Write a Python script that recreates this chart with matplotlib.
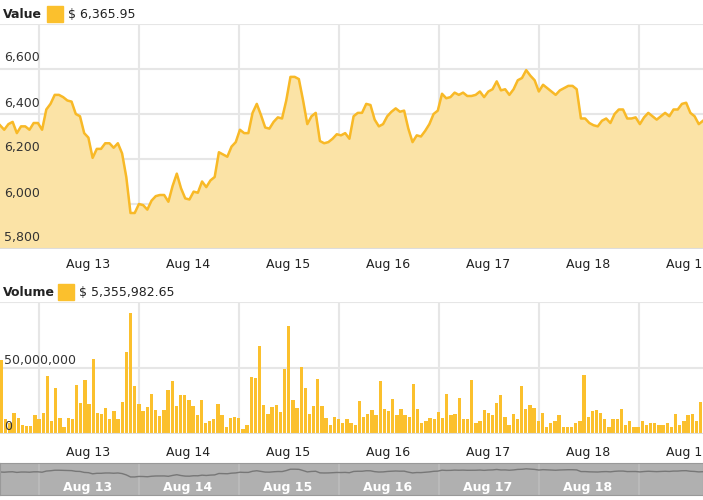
import matplotlib

matplotlib.use("Agg")
import matplotlib.pyplot as plt
import numpy as np

# hourly price readings (USD)
price = [
    6350, 6330, 6355, 6365, 6315, 6345, 6345, 6330, 6360, 6360, 6330, 6420,
    6445, 6485, 6485, 6475, 6460, 6455, 6400, 6390, 6315, 6295, 6205, 6245,
    6245, 6270, 6270, 6250, 6270, 6225, 6120, 5960, 5960, 6000, 5995, 5975,
    6015, 6035, 6040, 6040, 6010, 6080, 6135, 6070, 6025, 6020, 6055, 6050,
    6100, 6075, 6105, 6120, 6230, 6220, 6210, 6255, 6275, 6330, 6315, 6315,
    6405, 6445, 6395, 6340, 6335, 6365, 6385, 6380, 6460, 6565, 6565, 6555,
    6460, 6355, 6390, 6405, 6280, 6270, 6275, 6290, 6310, 6305, 6315, 6290,
    6390, 6405, 6405, 6445, 6440, 6375, 6345, 6355, 6390, 6410, 6425, 6410,
    6415, 6335, 6275, 6305, 6300, 6325, 6355, 6400, 6415, 6490, 6470, 6475,
    6495, 6485, 6495, 6480, 6480, 6485, 6500, 6475, 6500, 6510, 6545, 6505,
    6510, 6485, 6510, 6550, 6560, 6595, 6570, 6550, 6500, 6530, 6515, 6500,
    6485, 6505, 6515, 6525, 6525, 6510, 6380, 6380, 6360, 6350, 6345, 6370,
    6380, 6360, 6400, 6420, 6420, 6380, 6380, 6385, 6355, 6385, 6405, 6390,
    6375, 6390, 6405, 6390, 6420, 6420, 6445, 6450, 6405, 6390, 6355, 6370,
]

# hourly volume readings (millions USD)
volume_m = [
    56, 11, 8.5, 16, 12.5, 7, 6, 6, 14.5, 11, 16, 44, 10, 35, 12, 5.5, 12,
    11.5, 37, 23.5, 41, 23, 57, 16, 15.5, 20, 11, 17.5, 11, 24, 62, 92, 36.5,
    23, 17.5, 20.5, 30, 18, 14, 18, 33, 40, 21.5, 29.5, 29.5, 26, 21.5, 14.5,
    26, 8.5, 9.5, 11, 23, 14.5, 5.5, 12, 13, 12, 4, 7, 43, 42.5, 66.5, 22,
    15.5, 20.5, 22, 17, 49, 81.5, 26, 20, 51, 35, 15.5, 21.5, 41.5, 21.5, 12,
    7, 13, 11, 8.5,
    11, 8.5, 7, 25, 13, 15.5, 18.5, 14.5, 40, 19, 17.5, 26.5, 14.5, 19, 14.5,
    13, 38, 19, 8.5, 9.5, 12, 11, 17, 12, 30, 14.5, 15.5, 27.5, 11, 11, 41, 8,
    10, 18.5, 16, 14.5, 23.5, 29.5, 13, 7, 15.5, 11.5, 36.5, 19, 22, 20, 9.5,
    16, 5, 8, 9.5, 14.5, 5, 5, 5.5, 8.5, 10, 45, 13, 17.5, 18.5, 16, 11.5, 5,
    11.5, 11.5, 19, 7, 9.5, 5, 5, 10, 6.5, 8, 8, 7, 7, 8, 5, 15.5, 6.5, 9.5,
    14.5, 15.5, 9.5, 24.5, 5,
]

day_labels = ["Aug 13", "Aug 14", "Aug 15", "Aug 16", "Aug 17", "Aug 18", "Aug 19"]
price_ticks = [5800, 6000, 6200, 6400, 6600]

LINE = "#f8b927"
FILL = "#fbe3a6"
BAR = "#fbc02d"
GRID = "#e6e6e6"

hours_px = 100 / 24
x_max = 703 / hours_px
px = lambda p: p / hours_px
grid_x = [px(39 + 100 * k) for k in range(7)]
label_x = [px(88 + 100 * k) for k in range(7)]

xp = np.arange(len(price)) * (px(703) / (len(price) - 1))
xv = np.arange(len(volume_m)) * (px(703) / (len(volume_m) - 1))

fig = plt.figure(figsize=(7.03, 5.0), dpi=100)


def style(ax, ylim):
    ax.set_xlim(0, x_max)
    ax.set_ylim(*ylim)
    for spine in ax.spines.values():
        spine.set_visible(False)
    ax.set_xticks([])
    ax.set_yticks([])
    for gx in grid_x:
        ax.axvline(gx, color=GRID, lw=1.5, zorder=0)


# value panel
ax1 = fig.add_axes([0, 1 - 249 / 500, 1, 225 / 500])
style(ax1, (5800, 6800))
for t in price_ticks + [6800]:
    ax1.axhline(t, color=GRID, lw=1.5, zorder=0)
ax1.fill_between(xp, price, 5800, color=FILL, zorder=1)
ax1.plot(xp, price, color=LINE, lw=1.8, zorder=2)
ax1.axhline(5800, color="#dddddd", lw=1.5, zorder=3)
for t in price_ticks:
    ax1.text(px(4), t + 20, f"{t:,}", fontsize=9, color="#333333", va="bottom", ha="left")
for lx, lab in zip(label_x, day_labels):
    ax1.text(lx, 5730, lab, fontsize=9, ha="center", va="center", color="#222222", clip_on=False)

# volume panel
ax2 = fig.add_axes([0, 1 - 434 / 500, 1, 132 / 500])
style(ax2, (0, 100))
for t in [0, 50, 100]:
    ax2.axhline(t, color=GRID, lw=1.5, zorder=0)
ax2.bar(xv, volume_m, width=0.8 * (xv[1] - xv[0]), color=BAR, align="edge", zorder=2)
ax2.axhline(0, color="#dddddd", lw=1.5, zorder=3)
ax2.text(px(4), 51, "50,000,000", fontsize=9, color="#333333", va="bottom")
ax2.text(px(4), 1, "0", fontsize=9, color="#333333", va="bottom")
for lx, lab in zip(label_x, day_labels):
    ax2.text(lx, -14, lab, fontsize=9, ha="center", va="center", color="#222222", clip_on=False)

# navigator
ax3 = fig.add_axes([0, 1 - 495 / 500, 1, 32 / 500])
ax3.set_facecolor("#b0b0b0")
ax3.set_xlim(0, x_max)
ax3.set_ylim(0, 1)
ax3.set_xticks([])
ax3.set_yticks([])
for spine in ax3.spines.values():
    spine.set_color("#999999")
for gx in grid_x:
    ax3.axvline(gx, color="#bdbdbd", lw=1.2)
norm = (np.array(price) - 5800) / 1000
ax3.plot(xp, 0.5 + norm * 0.4, color="#777777", lw=1)
for lx, lab in zip(label_x[:6], day_labels[:6]):
    ax3.text(lx, 0.25, lab, fontsize=9, ha="center", va="center", color="white", fontweight="bold")

# headers
for y, name, val in [(14, "Value", "$ 6,365.95"), (292, "Volume", "$ 5,355,982.65")]:
    yf = 1 - y / 500
    fig.text(3 / 703, yf, name, fontsize=9, fontweight="bold", va="center", color="#222222")
    sq_x = 47 if name == "Value" else 58
    fig.patches.append(plt.Rectangle((sq_x / 703, yf - 8 / 500), 16 / 703, 16 / 500,
                                     transform=fig.transFigure, color=BAR))
    fig.text((sq_x + 21) / 703, yf, val, fontsize=9, va="center", color="#222222")

fig.savefig("out.png", dpi=100)
